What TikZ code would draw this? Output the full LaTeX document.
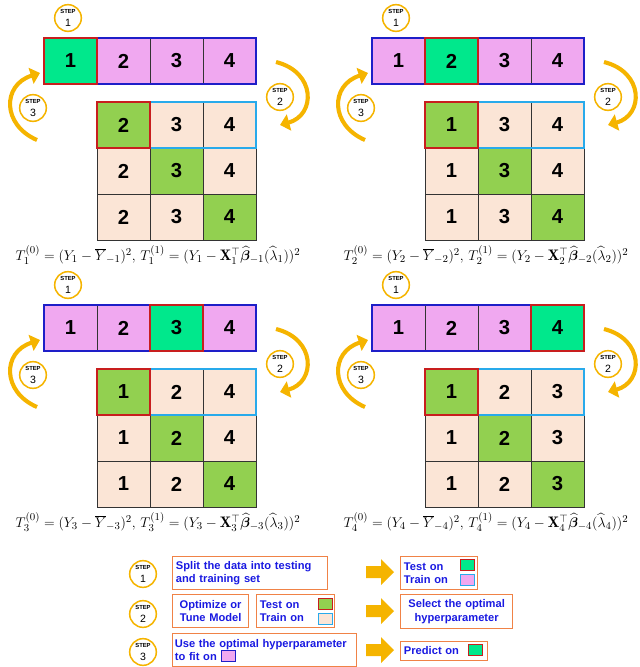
\documentclass[tikz,border=0pt]{standalone}
\usepackage{fontspec}
\usepackage{amsmath,bm}
\setsansfont{Liberation Sans}
\usetikzlibrary{arrows.meta}
\definecolor{bgreen}{RGB}{0,232,140}
\definecolor{bpink}{RGB}{240,168,240}
\definecolor{dgreen}{RGB}{146,208,80}
\definecolor{peach}{RGB}{251,229,214}
\definecolor{bblue}{RGB}{30,30,200}
\definecolor{cyanb}{RGB}{40,170,235}
\definecolor{redb}{RGB}{200,30,30}
\definecolor{gold}{RGB}{245,180,0}
\definecolor{txtblue}{RGB}{25,25,225}
\definecolor{obox}{RGB}{240,130,70}
\tikzset{
 cell/.style={draw=black!80,line width=0.5pt,minimum width=1.59cm,minimum height=1.38cm,inner sep=0,outer sep=0,font=\sffamily\bfseries\LARGE},
 stepc/.style={circle,draw=gold,line width=1.3pt,fill=white,minimum size=0.8cm,inner sep=0,align=center,font=\sffamily},
 carrow/.style={draw=gold,line width=3.5pt,-{Triangle[length=8pt,width=14pt]}},
 lbox/.style={draw=obox,line width=0.8pt,inner sep=3pt,align=left,font=\fontsize{9.5}{11.5}\selectfont\sffamily\bfseries\color{txtblue}},
 sw/.style={draw=#1,line width=0.8pt,minimum width=0.42cm,minimum height=0.33cm,inner sep=0},
}
\newcommand\stepnode[3]{\node[stepc] (#1) at (#2) {\fontsize{5}{5}\selectfont\textbf{STEP}\\[-1pt]\fontsize{9}{9}\selectfont #3};}
\newcommand\panel[5]{%
 \foreach \i in {1,...,4}{
  \ifnum\i=#3 \def\fc{bgreen}\else\def\fc{bpink}\fi
  \node[cell,fill=\fc] (b#3-\i) at (#1+17.5+53*\i, #2+61) {\i};
 }
 \foreach \r in {1,2,3}{
  \foreach \n [count=\j] in {#4}{
   \ifnum\j=\r \def\fc{dgreen}\else\def\fc{peach}\fi
   \node[cell,fill=\fc] (g#3-\r-\j) at (#1+70.5+53*\j, #2+79+46*\r) {\n};
  }
 }
 \draw[bblue,line width=1.4pt] (b#3-1.north west) rectangle (b#3-4.south east);
 \draw[redb,line width=1.4pt] (b#3-#3.north west) rectangle (b#3-#3.south east);
 \draw[cyanb,line width=1.4pt] (g#3-1-2.north west) rectangle (g#3-1-3.south east);
 \draw[redb,line width=1.4pt] (g#3-1-1.north west) rectangle (g#3-1-1.south east);
 \stepnode{s1-#3}{#1+68,#2+18}{1}
 \stepnode{s3-#3}{#1+33,#2+108}{3}
 \stepnode{s2-#3}{#1+280,#2+97}{2}
 \coordinate (la#3) at (#1+37,#2+140); \coordinate (lb#3) at (#1+40,#2+73);
 \coordinate (ra#3) at (#1+276,#2+62); \coordinate (rb#3) at (#1+280,#2+125);
 \draw[carrow] (la#3) .. controls (#1+2,#2+125) and (#1+2,#2+85) .. (lb#3);
 \draw[carrow] (ra#3) .. controls (#1+316,#2+72) and (#1+316,#2+115) .. (rb#3);
 \node[font=\fontsize{13}{15}\selectfont,inner sep=0] (f#3) at (#1+158,#2+255) {$#5$};
}
\begin{document}
\begin{tikzpicture}[x=0.03cm,y=-0.03cm]
\useasboundingbox (0,0) rectangle (640,667);
\panel{0}{0}{1}{2,3,4}{T_1^{(0)}=(Y_1-\overline{Y}_{-1})^2,\,T_1^{(1)}=(Y_1-\mathbf{X}_1^{\top}\widehat{\bm\beta}_{-1}(\widehat{\lambda}_1))^2}
\panel{328}{0}{2}{1,3,4}{T_2^{(0)}=(Y_2-\overline{Y}_{-2})^2,\,T_2^{(1)}=(Y_2-\mathbf{X}_2^{\top}\widehat{\bm\beta}_{-2}(\widehat{\lambda}_2))^2}
\panel{0}{267}{3}{1,2,4}{T_3^{(0)}=(Y_3-\overline{Y}_{-3})^2,\,T_3^{(1)}=(Y_3-\mathbf{X}_3^{\top}\widehat{\bm\beta}_{-3}(\widehat{\lambda}_3))^2}
\panel{328}{267}{4}{1,2,3}{T_4^{(0)}=(Y_4-\overline{Y}_{-4})^2,\,T_4^{(1)}=(Y_4-\mathbf{X}_4^{\top}\widehat{\bm\beta}_{-4}(\widehat{\lambda}_4))^2}
% legend
\stepnode{L1}{143,574}{1}
\stepnode{L2}{143,614}{2}
\stepnode{L3}{143,652}{3}
\node[lbox,anchor=north west,text width=4.45cm,minimum height=0.99cm] (k1) at (172,556) {Split the data into testing\\and training set};
\node[lbox,anchor=north west,text width=2.08cm,minimum height=0.99cm,align=center] (k2a) at (172,594) {Optimize or\\Tune Model};
\node[lbox,anchor=north west,text width=2.14cm,minimum height=0.99cm] (k2b) at (256,594) {Test on\\Train on};
\node[lbox,anchor=north west,text width=5.38cm,minimum height=0.99cm,inner sep=2pt] (k3) at (172,633) {\hyphenpenalty=10000 Use the optimal hyperparameter\\to fit on};
\node[lbox,anchor=north west,text width=2.11cm,minimum height=0.99cm] (r1) at (400,556) {Test on\\Train on};
\node[lbox,anchor=north west,text width=3.16cm,minimum height=1.02cm,align=center] (r2) at (400,594) {Select the optimal\\hyperparameter};
\node[lbox,anchor=north west,text width=2.41cm,minimum height=0.57cm] (r3) at (400,641) {Predict on};
\node[sw=redb,fill=bgreen] (w1) at (467,565) {};
\node[sw=cyanb,fill=bpink] (w2) at (467,580) {};
\node[sw=redb,fill=dgreen] (w3) at (325,604) {};
\node[sw=cyanb,fill=peach] (w4) at (325,619) {};
\node[sw=bblue,fill=bpink] (w5) at (228,656) {};
\node[sw=redb,fill=bgreen] (w6) at (475,650) {};
\foreach \yy in {572,611,650}{
 \fill[gold] (366,\yy-6) -- (381,\yy-6) -- (381,\yy-13) -- (394,\yy) -- (381,\yy+13) -- (381,\yy+6) -- (366,\yy+6) -- cycle;
}
\end{tikzpicture}
\end{document}
